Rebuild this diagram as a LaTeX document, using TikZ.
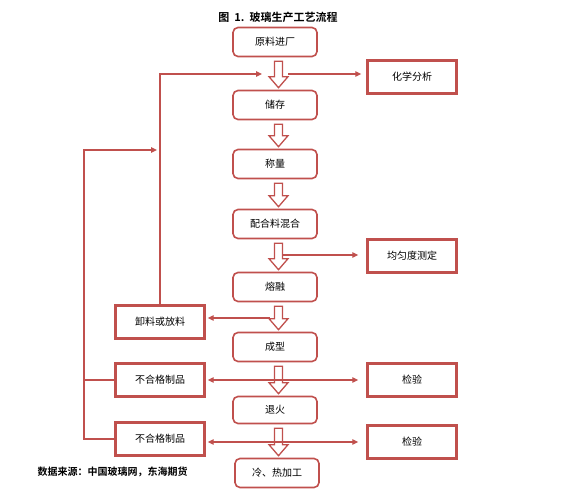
\documentclass[tikz,border=0pt]{standalone}
\usepackage{fontspec}
\setmainfont{Noto Sans CJK SC}[BoldFont={Noto Sans CJK SC Bold}]
\usetikzlibrary{arrows.meta,calc}
\definecolor{flowred}{RGB}{192,80,77}

\tikzset{
  procbox/.style={draw=flowred, line width=1.6pt, rounded corners=5pt, minimum width=84pt, minimum height=29pt, inner sep=0pt, font=\fontsize{10}{12}\selectfont},
  sidebox/.style={draw=flowred, line width=2.4pt, minimum width=89pt, minimum height=33pt, inner sep=0pt, font=\fontsize{10}{12}\selectfont},
  link/.style={draw=flowred, line width=1.3pt},
  flow/.style={link, -{Triangle[length=6pt,width=5.5pt]}},
  both/.style={link, {Triangle[length=6pt,width=5.5pt]}-{Triangle[length=6pt,width=5.5pt]}},
  hollow/.style={draw=flowred, line width=1.3pt, fill=white}
}

% hollow arrow from one step down to the next
\newcommand{\hollowarrow}[2]{%
  \draw[hollow] let \p1=($(#1.south)+(3.5,4)$), \p2=($(#2.north)+(3.5,-2)$) in
    (\x1-4pt,\y1) -- (\x1+4pt,\y1) -- (\x1+4pt,\y2+11pt) -- (\x1+9.5pt,\y2+11pt)
    -- (\x1,\y2) -- (\x1-9.5pt,\y2+11pt) -- (\x1-4pt,\y2+11pt) -- cycle;}

\begin{document}
\begin{tikzpicture}[x=1pt, y=-1pt]
\useasboundingbox (0,0) rectangle (563,500);

% Title
\node[font=\fontsize{11}{13}\selectfont\bfseries] (title) at (278,17) {图~~1.~~玻璃生产工艺流程};

% Main process steps
\node[procbox] (raw) at (275,42) {原料进厂};
\node[procbox] (store) at (275,105) {储存};
\node[procbox] (weigh) at (275,164) {称量};
\node[procbox] (mix) at (275,224) {配合料混合};
\node[procbox] (melt) at (275,287) {熔融};
\node[procbox] (shape) at (275,347) {成型};
\node[procbox, minimum height=27pt] (anneal) at (275,410) {退火};
\node[procbox] (process) at (277,473) {冷、热加工};

% Checks on the right
\node[sidebox] (chem) at (412,77) {化学分析};
\node[sidebox] (unif) at (412,256) {均匀度测定};
\node[sidebox] (check1) at (412,380) {检验};
\node[sidebox] (check2) at (412,442) {检验};

% Side outputs on the left
\node[sidebox] (unload) at (160,322) {卸料或放料};
\node[sidebox] (reject1) at (160,380) {不合格制品};
\node[sidebox] (reject2) at (160,439) {不合格制品};

% Source
\node[anchor=west, font=\fontsize{10}{12}\selectfont\bfseries] (source) at (34,472) {数据来源：中国玻璃网，东海期货};

% Draw the hollow arrows
\hollowarrow{raw}{store}
\hollowarrow{store}{weigh}
\hollowarrow{weigh}{mix}
\hollowarrow{mix}{melt}
\hollowarrow{melt}{shape}
\hollowarrow{shape}{anneal}
\hollowarrow{anneal}{process}

% Free ends beside the hollow arrows
\coordinate (out1) at (288,74);
\coordinate (in1) at (262,74);
\coordinate (out2) at (283,255);
\coordinate (out3) at (270,318);
\coordinate (loop) at (84,150);
\coordinate (in2) at (157,150);

% Draw the connectors
\draw[flow, shorten >=5pt] (out1) -- (chem.west |- out1);
\draw[flow] (unload.north) |- (in1);
\draw[flow, shorten >=8pt] (out2) -- (unif.west |- out2);
\draw[flow, shorten >=2pt] (out3) -- (unload.east |- out3);
\draw[both, shorten <=2pt, shorten >=8pt] (reject1.east) -- (check1.west);
\draw[both, shorten <=2pt, shorten >=8pt] (reject2.east |- check2.west) -- (check2.west);
\draw[flow] (reject2.west) -| (loop) -- (in2);
\draw[link] (reject1.west) -- (reject1.west -| loop);
\end{tikzpicture}
\end{document}
